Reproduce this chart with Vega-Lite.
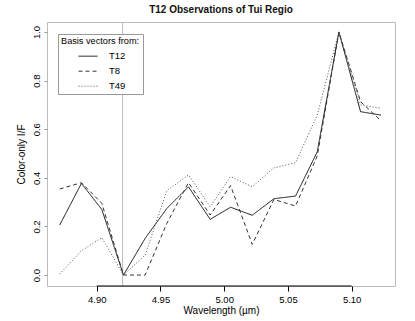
{
  "$schema": "https://vega.github.io/schema/vega-lite/v6.json",
  "autosize": "none",
  "width": 348,
  "height": 264,
  "padding": {"left": 47, "top": 22, "right": 20, "bottom": 35},
  "config": {
    "font": "Liberation Sans",
    "view": {"stroke": "#bbbbbb", "strokeWidth": 1}
  },
  "title": {"text": "T12 Observations of Tui Regio", "fontSize": 10, "fontWeight": "bold", "color": "#111", "offset": 7},
  "layer": [
    {
      "data": {"values": [{}]},
      "mark": {"type": "rule", "color": "#bbbbbb", "strokeWidth": 1},
      "encoding": {"x": {"datum": 4.9203, "type": "quantitative"}}
    },
    {
      "data": {"values": [{}]},
      "mark": {"type": "rule", "color": "#000000", "strokeWidth": 1},
      "encoding": {
        "x": {"datum": 4.90, "type": "quantitative"},
        "x2": {"datum": 5.10},
        "y": {"datum": -0.045, "type": "quantitative"}
      }
    },
    {
      "data": {
        "values": [
          {"wl": 4.871, "v": 0.206, "s": "T12"}, {"wl": 4.888, "v": 0.377, "s": "T12"}, {"wl": 4.904, "v": 0.270, "s": "T12"}, {"wl": 4.921, "v": 0.0, "s": "T12"},
          {"wl": 4.938, "v": 0.151, "s": "T12"}, {"wl": 4.955, "v": 0.274, "s": "T12"}, {"wl": 4.972, "v": 0.363, "s": "T12"}, {"wl": 4.989, "v": 0.229, "s": "T12"},
          {"wl": 5.005, "v": 0.279, "s": "T12"}, {"wl": 5.022, "v": 0.246, "s": "T12"}, {"wl": 5.039, "v": 0.314, "s": "T12"}, {"wl": 5.056, "v": 0.325, "s": "T12"},
          {"wl": 5.073, "v": 0.507, "s": "T12"}, {"wl": 5.090, "v": 1.0, "s": "T12"}, {"wl": 5.107, "v": 0.672, "s": "T12"}, {"wl": 5.123, "v": 0.658, "s": "T12"},
          {"wl": 4.871, "v": 0.354, "s": "T8"}, {"wl": 4.888, "v": 0.380, "s": "T8"}, {"wl": 4.904, "v": 0.295, "s": "T8"}, {"wl": 4.921, "v": 0.0, "s": "T8"},
          {"wl": 4.938, "v": 0.0, "s": "T8"}, {"wl": 4.955, "v": 0.213, "s": "T8"}, {"wl": 4.972, "v": 0.380, "s": "T8"}, {"wl": 4.989, "v": 0.247, "s": "T8"},
          {"wl": 5.005, "v": 0.368, "s": "T8"}, {"wl": 5.022, "v": 0.126, "s": "T8"}, {"wl": 5.039, "v": 0.311, "s": "T8"}, {"wl": 5.056, "v": 0.284, "s": "T8"},
          {"wl": 5.073, "v": 0.49, "s": "T8"}, {"wl": 5.090, "v": 1.0, "s": "T8"}, {"wl": 5.107, "v": 0.713, "s": "T8"}, {"wl": 5.123, "v": 0.635, "s": "T8"},
          {"wl": 4.871, "v": 0.004, "s": "T49"}, {"wl": 4.888, "v": 0.100, "s": "T49"}, {"wl": 4.904, "v": 0.154, "s": "T49"}, {"wl": 4.921, "v": 0.0, "s": "T49"},
          {"wl": 4.938, "v": 0.082, "s": "T49"}, {"wl": 4.955, "v": 0.347, "s": "T49"}, {"wl": 4.972, "v": 0.412, "s": "T49"}, {"wl": 4.989, "v": 0.281, "s": "T49"},
          {"wl": 5.005, "v": 0.405, "s": "T49"}, {"wl": 5.022, "v": 0.363, "s": "T49"}, {"wl": 5.039, "v": 0.441, "s": "T49"}, {"wl": 5.056, "v": 0.462, "s": "T49"},
          {"wl": 5.073, "v": 0.658, "s": "T49"}, {"wl": 5.090, "v": 1.0, "s": "T49"}, {"wl": 5.107, "v": 0.700, "s": "T49"}, {"wl": 5.123, "v": 0.686, "s": "T49"}
        ]
      },
      "mark": {"type": "line", "strokeWidth": 1, "clip": true},
      "encoding": {
        "x": {
          "field": "wl", "type": "quantitative",
          "scale": {"domain": [4.861, 5.134], "nice": false, "zero": false},
          "axis": {
            "title": "Wavelength (µm)", "values": [4.90, 4.95, 5.00, 5.05, 5.10], "format": ".2f",
            "domain": false, "grid": false, "tickColor": "#000", "tickSize": 5, "tickWidth": 1,
            "labelFontSize": 9.5, "labelColor": "#000", "labelPadding": 3,
            "titleFontSize": 10, "titleFontWeight": "normal", "titleColor": "#000", "titlePadding": 2
          }
        },
        "y": {
          "field": "v", "type": "quantitative",
          "scale": {"domain": [-0.045, 1.041], "nice": false, "zero": false},
          "axis": {
            "title": "Color-only I/F", "values": [0, 0.2, 0.4, 0.6, 0.8, 1.0], "format": ".1f",
            "domain": false, "grid": false, "tickColor": "#999999", "tickSize": 3, "tickWidth": 1,
            "labelAngle": 270, "labelAlign": "center", "labelBaseline": "bottom", "labelFontSize": 9.5, "labelColor": "#000", "labelPadding": 3,
            "titleFontSize": 10, "titleFontWeight": "normal", "titleColor": "#000", "titlePadding": 5
          }
        },
        "strokeDash": {
          "field": "s", "type": "nominal",
          "scale": {"domain": ["T12", "T8", "T49"], "range": [[1, 0], [4, 3], [1, 2]]},
          "legend": {
            "title": "Basis vectors from:", "orient": "none", "legendX": 11, "legendY": 12,
            "fillColor": "#ffffff", "strokeColor": "#999999", "padding": 3,
            "titleFontSize": 9.2, "titleFontWeight": "normal", "titleColor": "#000", "titlePadding": 0,
            "symbolType": "stroke", "symbolSize": 361, "symbolStrokeWidth": 1, "symbolOffset": 17,
            "labelFontSize": 9.5, "labelColor": "#000", "labelOffset": 11, "rowPadding": -8
          }
        },
        "color": {
          "field": "s", "type": "nominal",
          "scale": {"domain": ["T12", "T8", "T49"], "range": ["#111111", "#333333", "#555555"]},
          "legend": {
            "title": "Basis vectors from:", "orient": "none", "legendX": 11, "legendY": 12,
            "fillColor": "#ffffff", "strokeColor": "#999999", "padding": 3,
            "titleFontSize": 9.2, "titleFontWeight": "normal", "titleColor": "#000", "titlePadding": 0,
            "symbolType": "stroke", "symbolSize": 361, "symbolStrokeWidth": 1, "symbolOffset": 17,
            "labelFontSize": 9.5, "labelColor": "#000", "labelOffset": 11, "rowPadding": -8
          }
        }
      }
    }
  ]
}
